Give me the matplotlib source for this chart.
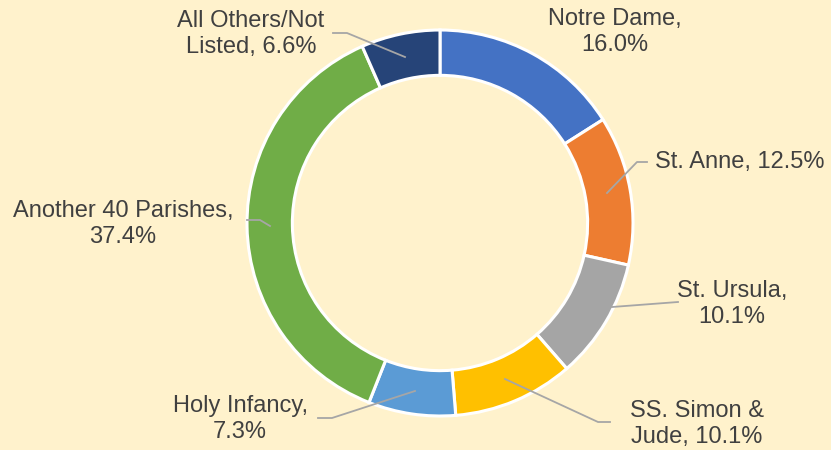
import matplotlib.pyplot as plt
import numpy as np

plt.rcParams['font.family'] = ['Liberation Sans', 'DejaVu Sans']

names = ["Notre Dame", "St. Anne", "St. Ursula", "SS. Simon & Jude",
         "Holy Infancy", "Another 40 Parishes", "All Others/Not Listed"]
shares = [16.0, 12.5, 10.1, 10.1, 7.3, 37.4, 6.6]
label_text = ["Notre Dame,\n16.0%", "St. Anne, 12.5%", "St. Ursula,\n10.1%",
              "SS. Simon &\nJude, 10.1%", "Holy Infancy,\n7.3%",
              "Another 40 Parishes,\n37.4%", "All Others/Not\nListed, 6.6%"]
colors = ["#4472C4", "#ED7D31", "#A5A5A5", "#FFC000", "#5B9BD5", "#70AD47", "#264478"]

# pixel layout of the original (centre 440,223 ; outer radius 193 px)
W, H = 831, 450
CX, CY, R = 440, 223, 193

def px(x, y):
    return ((x - CX) / R, (CY - y) / R)

# label anchor (pixels), horizontal alignment
label_pos = [(615, 32, "center"), (655, 162, "left"), (732, 304, "center"),
             (697, 424, "center"), (240, 419, "center"), (123, 224, "center"),
             (251, 34, "center")]
# leader polylines (pixels), None where there is no leader
leaders = [None,
           [(607, 193), (637, 162), (647, 162)],
           [(612, 307), (678, 302)],
           [(505, 379), (598, 422), (610, 422)],
           [(415, 391), (332, 418), (318, 418)],
           [(270, 226), (260, 220), (247, 220)],
           [(405, 57), (347, 33), (333, 33)]]

fig = plt.figure(figsize=(W / 100, H / 100), dpi=100)
fig.patch.set_facecolor("#FFF2CC")
ax = fig.add_axes([0, 0, 1, 1])
ax.set_facecolor("#FFF2CC")

ax.pie(shares, colors=colors, startangle=90, counterclock=False, radius=1,
       wedgeprops=dict(width=0.235, edgecolor="white", linewidth=2.2))

x0, y0 = px(0, H)
x1, y1 = px(W, 0)
ax.set_xlim(x0, x1)
ax.set_ylim(y0, y1)
ax.set_aspect("equal")
ax.axis("off")

for i, txt in enumerate(label_text):
    lx, ly, ha = label_pos[i]
    ax.text(*px(lx, ly), txt, ha=ha, va="center", multialignment="center",
            fontsize=17, color="#404040", linespacing=1.25)
    if leaders[i] is not None:
        pts = np.array([px(x, y) for x, y in leaders[i]])
        ax.plot(pts[:, 0], pts[:, 1], color="#A6A6A6", lw=1.3)

fig.savefig("out.png", dpi=100, facecolor=fig.get_facecolor())
